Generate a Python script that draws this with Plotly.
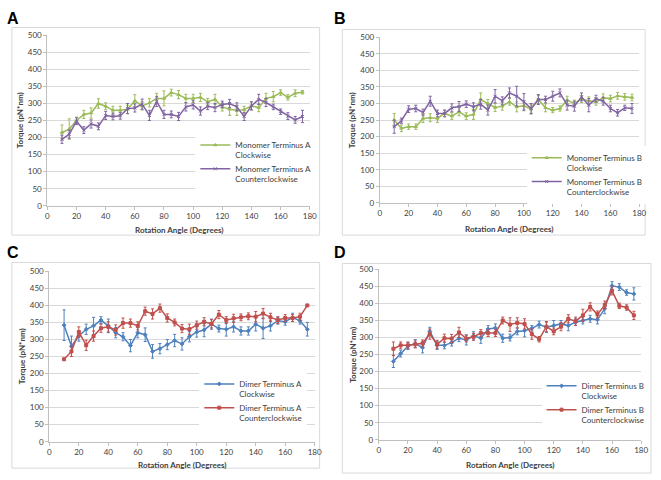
import plotly.graph_objects as go

W, H = 661, 480

angles = [10, 15, 20, 25, 30, 35, 40, 45, 50, 55, 60, 65, 70, 75, 80, 85, 90,
          95, 100, 105, 110, 115, 120, 125, 130, 135, 140, 145, 150, 155, 160,
          165, 170, 175]

# Panel A: Monomer Terminus A
mono_a_cw = [215, 225, 250, 268, 272, 300, 292, 280, 280, 283, 308, 293, 302, 315, 315, 332, 326,
             315, 315, 318, 305, 312, 290, 283, 280, 282, 293, 288, 315, 320, 332, 318, 330, 333]
mono_a_cw_err = [22, 30, 10, 12, 15, 14, 10, 12, 12, 12, 18, 12, 12, 15, 22, 10, 12,
                 12, 12, 12, 10, 15, 12, 18, 15, 10, 12, 12, 15, 15, 8, 8, 10, 5]
mono_a_ccw = [195, 210, 248, 222, 240, 233, 265, 262, 264, 285, 287, 298, 265, 306, 268, 268, 262,
              290, 296, 278, 292, 288, 297, 300, 290, 262, 293, 312, 303, 290, 276, 263, 252, 262]
mono_a_ccw_err = [12, 12, 10, 10, 12, 10, 12, 10, 10, 15, 12, 15, 15, 15, 12, 10, 12,
                  12, 12, 12, 10, 12, 10, 12, 12, 12, 12, 15, 12, 8, 8, 10, 10, 18]

# Panel B: Monomer Terminus B
mono_b_cw = [250, 225, 230, 230, 255, 257, 255, 270, 262, 275, 262, 267, 312, 300, 288, 292, 305,
             290, 293, 283, 312, 287, 280, 285, 310, 300, 313, 308, 305, 317, 315, 323, 320, 318]
mono_b_cw_err = [20, 10, 8, 8, 12, 12, 12, 10, 10, 12, 10, 15, 20, 12, 12, 12, 10,
                 15, 15, 15, 12, 12, 8, 8, 12, 10, 10, 12, 10, 12, 10, 10, 10, 10]
mono_b_ccw = [230, 248, 283, 285, 273, 307, 270, 270, 287, 291, 298, 290, 298, 280, 322, 308, 332,
              322, 305, 285, 312, 312, 322, 332, 295, 292, 320, 295, 315, 307, 285, 272, 287, 285]
mono_b_ccw_err = [20, 8, 10, 10, 10, 15, 10, 10, 12, 15, 10, 12, 15, 15, 20, 12, 15,
                  30, 25, 15, 15, 10, 15, 12, 15, 15, 12, 20, 10, 12, 10, 10, 8, 15]

# Panel C: Dimer Terminus A
dim_a_cw = [342, 280, 310, 330, 340, 357, 340, 320, 308, 282, 320, 314, 265, 273, 285, 297, 287,
            308, 322, 328, 345, 332, 330, 337, 325, 325, 345, 333, 340, 355, 352, 365, 355, 330]
dim_a_cw_err = [45, 30, 15, 15, 25, 10, 20, 15, 12, 18, 15, 20, 20, 15, 15, 18, 18,
                15, 15, 20, 15, 10, 20, 15, 12, 12, 20, 30, 15, 10, 10, 12, 10, 20]
dim_a_ccw = [242, 265, 322, 283, 310, 333, 337, 328, 348, 348, 340, 383, 375, 392, 363, 350, 332,
             330, 342, 352, 346, 373, 357, 362, 365, 368, 367, 376, 365, 357, 363, 363, 367, 400]
dim_a_ccw_err = [3, 15, 15, 15, 15, 12, 15, 15, 15, 12, 12, 12, 15, 12, 12, 10, 12,
                 15, 12, 12, 12, 12, 10, 12, 10, 10, 15, 15, 12, 10, 10, 10, 10, 3]

# Panel D: Dimer Terminus B
dim_b_cw = [230, 253, 275, 282, 270, 318, 277, 277, 285, 298, 293, 305, 298, 325, 328, 298, 300,
            318, 320, 327, 338, 330, 335, 340, 335, 345, 350, 355, 352, 385, 452, 448, 432, 428]
dim_b_cw_err = [18, 10, 10, 12, 15, 12, 12, 10, 10, 10, 15, 12, 15, 10, 12, 12, 10,
                10, 18, 8, 10, 15, 15, 10, 15, 10, 10, 10, 12, 15, 12, 10, 8, 18]
dim_b_ccw = [267, 277, 277, 280, 283, 310, 280, 298, 297, 315, 297, 302, 313, 313, 313, 350, 338,
             343, 340, 310, 295, 332, 318, 332, 355, 348, 365, 390, 368, 395, 437, 393, 388, 365]
dim_b_ccw_err = [20, 10, 10, 10, 10, 15, 12, 12, 12, 15, 10, 10, 10, 10, 10, 10, 20,
                 15, 15, 15, 8, 15, 10, 12, 12, 12, 18, 12, 10, 12, 12, 8, 8, 12]

GREEN, PURPLE, BLUE, RED = "#9BBB59", "#8064A2", "#4F81BD", "#C0504D"
FONT = "Lato, Open Sans, sans-serif"
XTITLE = "Rotation Angle (Degrees)"
YTITLE = "Torque (pN*nm)"

panels = [
    dict(label="A", dom=(46, 312, 31, 205), box=(10, 322, 23, 235), leg=(196, 131), lab=(3, 3),
         ytx=18, xty=230,
         series=[("Monomer Terminus A<br>Clockwise", mono_a_cw, mono_a_cw_err, GREEN, "triangle-up"),
                 ("Monomer Terminus A<br>Counterclockwise", mono_a_ccw, mono_a_ccw_err, PURPLE, "x-thin")]),
    dict(label="B", dom=(383, 646, 33, 202), box=(345, 652, 25, 235), leg=(532, 144), lab=(335, 3),
         ytx=355, xty=229,
         series=[("Monomer Terminus B<br>Clockwise", mono_b_cw, mono_b_cw_err, GREEN, "triangle-up"),
                 ("Monomer Terminus B<br>Counterclockwise", mono_b_ccw, mono_b_ccw_err, PURPLE, "x-thin")]),
    dict(label="C", dom=(48, 317, 272, 446), box=(10, 322, 263, 473), leg=(200, 375), lab=(3, 242),
         ytx=20, xty=470,
         series=[("Dimer Terminus A<br>Clockwise", dim_a_cw, dim_a_cw_err, BLUE, "diamond"),
                 ("Dimer Terminus A<br>Counterclockwise", dim_a_ccw, dim_a_ccw_err, RED, "square")]),
    dict(label="D", dom=(382, 648, 270, 444), box=(345, 658, 264, 478), leg=(547, 377), lab=(335, 242),
         ytx=355, xty=470,
         series=[("Dimer Terminus B<br>Clockwise", dim_b_cw, dim_b_cw_err, BLUE, "diamond"),
                 ("Dimer Terminus B<br>Counterclockwise", dim_b_ccw, dim_b_ccw_err, RED, "square")]),
]

fig = go.Figure()
layout = dict(width=W, height=H, margin=dict(l=0, r=0, t=0, b=0),
              paper_bgcolor="white", plot_bgcolor="white",
              font=dict(family=FONT, size=8, color="#404040"), shapes=[], annotations=[])

for i, p in enumerate(panels):
    n = "" if i == 0 else str(i + 1)
    x0, x1, y0, y1 = p["dom"]
    legname = "legend" + n
    for name, vals, errs, col, sym in p["series"]:
        fig.add_trace(go.Scatter(
            x=angles, y=vals, name=name, mode="lines+markers",
            line=dict(color=col, width=1.5),
            marker=dict(color=col, size=3, symbol=sym, line=dict(color=col, width=1)),
            error_y=dict(type="data", array=errs, visible=True, color=col, thickness=1, width=1.5),
            xaxis="x" + n, yaxis="y" + n, legend=legname))
    layout["xaxis" + n] = dict(
        domain=[x0 / W, x1 / W], anchor="y" + n, range=[0, 180], dtick=20, tick0=0,
        showgrid=False, showline=True, linecolor="#bfbfbf", linewidth=1,
        ticks="outside", ticklen=3, tickcolor="#bfbfbf", zeroline=False,
        tickfont=dict(size=8, color="#404040"))
    layout["yaxis" + n] = dict(
        domain=[1 - y1 / H, 1 - y0 / H], anchor="x" + n, range=[0, 500], dtick=50, tick0=0,
        showgrid=True, gridcolor="#d9d9d9", gridwidth=1, showline=True, linecolor="#bfbfbf",
        linewidth=1, ticks="outside", ticklen=3, tickcolor="#bfbfbf", zeroline=False,
        tickfont=dict(size=8, color="#404040"))
    lx, ly = p["leg"]
    layout[legname] = dict(x=lx / W, y=1 - ly / H, xanchor="left", yanchor="top",
                           bgcolor="white", borderwidth=0, valign="top",
                           font=dict(size=8, color="#404040", family=FONT),
                           itemwidth=30, tracegroupgap=3)
    bx0, bx1, by0, by1 = p["box"]
    layout["shapes"].append(dict(type="rect", xref="paper", yref="paper", layer="below",
                                 x0=bx0 / W, x1=bx1 / W, y0=1 - by1 / H, y1=1 - by0 / H,
                                 line=dict(color="#d9d9d9", width=1), fillcolor="white"))
    ax_, ay_ = p["lab"]
    layout["annotations"].append(dict(text="<b>" + p["label"] + "</b>", xref="paper", yref="paper",
                                      x=ax_ / W, y=1 - ay_ / H, xanchor="left", yanchor="top",
                                      showarrow=False, font=dict(size=16, color="black",
                                                                 family="Liberation Sans, Arial")))
    # axis titles
    layout["annotations"].append(dict(text="<b>" + XTITLE + "</b>", xref="paper", yref="paper",
                                      x=(x0 + x1) / 2 / W, y=1 - p["xty"] / H,
                                      xanchor="center", yanchor="middle", showarrow=False,
                                      font=dict(size=8, color="#404040", family=FONT)))
    layout["annotations"].append(dict(text="<b>" + YTITLE + "</b>", xref="paper", yref="paper",
                                      x=p["ytx"] / W, y=1 - (y0 + y1) / 2 / H, textangle=-90,
                                      xanchor="center", yanchor="middle", showarrow=False,
                                      font=dict(size=8, color="#404040", family=FONT)))

fig.update_layout(**layout)
fig.write_html("out.html", config={"displayModeBar": False},
               post_script="document.body.style.margin='0';")
